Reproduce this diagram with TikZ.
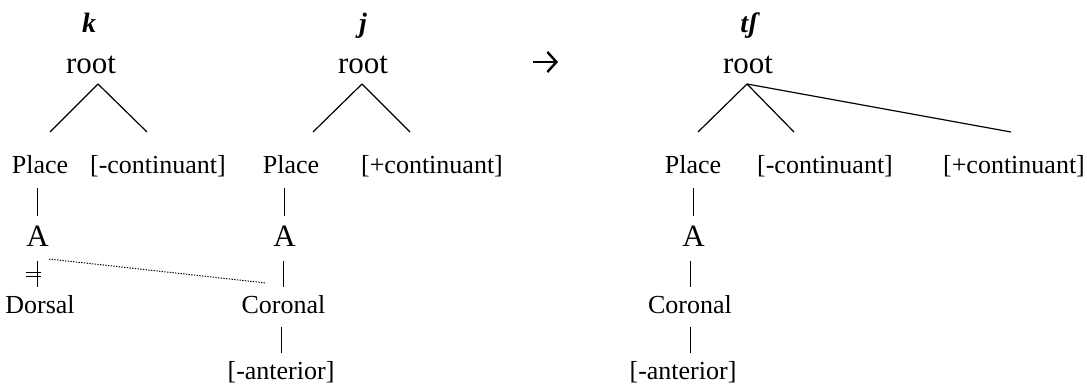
\documentclass[tikz,border=0pt]{standalone}
\usepackage{fontspec}
\setmainfont{Liberation Serif}
\usetikzlibrary{arrows.meta}

\begin{document}
\begin{tikzpicture}[
      x = 1pt, y = -1pt,
      seg/.style = {
        inner sep = 0pt, anchor = base,
        font = \fontsize{26}{30}\selectfont,
        text height = 18pt, text depth = 6pt
      },
      big/.style = {
        inner sep = 0pt, anchor = base,
        font = \fontsize{31}{36}\selectfont,
        text height = 22pt, text depth = 7pt
      },
      sound/.style = {
        inner sep = 0pt, anchor = base,
        font = \fontsize{28}{32}\selectfont\bfseries\itshape
      },
      branch/.style = { line width = 1.2pt },
      bar/.style = { line width = 0.8pt, shorten < = 8pt, shorten > = 8pt },
    ]

    \useasboundingbox (0,0) rectangle (1087,385);

    % segments
    \node[sound] (K)  at ( 89,33) {k};
    \node[sound] (J)  at (363,33) {j};
    \node[sound] (TS) at (749,33) {tʃ};

    \node[big] (R1) at ( 91,74) {root};
    \node[big] (R2) at (363,74) {root};
    \node[big] (R3) at (748,74) {root};

    % features
    \node[seg] (Pl1) at (  40,174) {Place};
    \node[seg] (Cn1) at ( 158,174) {[-continuant]};
    \node[seg] (Pl2) at ( 291,174) {Place};
    \node[seg] (Cp2) at ( 432,174) {[+continuant]};
    \node[seg] (Pl3) at ( 693,174) {Place};
    \node[seg] (Cn3) at ( 825,174) {[-continuant]};
    \node[seg] (Cp3) at (1014,174) {[+continuant]};

    \node[big] (A1) at ( 37.5,246) {A};
    \node[big] (A2) at (284.5,246) {A};
    \node[big] (A3) at (693.5,246) {A};

    \node[seg] (Do1) at ( 40,313) {Dorsal};
    \node[seg] (Co2) at (283.5,313) {Coronal};
    \node[seg] (Co3) at (690,313) {Coronal};

    \node[seg] (An2) at (281,379) {[-anterior]};
    \node[seg] (An3) at (683,379) {[-anterior]};

    % rule arrow
    \coordinate (arrL) at (533,62);
    \coordinate (arrR) at (558,62);
    \draw[line width = 2.2pt,
      -{Straight Barb[length = 9pt, width = 20pt, line width = 2.4pt]}]
      (arrL) -- (arrR);

    % branching from root
    \coordinate (a1) at ( 98,84);
    \coordinate (a2) at (362,84);
    \coordinate (a3) at (747,84);
    \coordinate (e1l) at ( 50,132);
    \coordinate (e1r) at (147,132);
    \coordinate (e2l) at (313,132);
    \coordinate (e2r) at (410,132);
    \coordinate (e3l) at (698,132);
    \coordinate (e3m) at (794,132);
    \coordinate (e3r) at (1011,132);

    \foreach \e in {e1l, e1r} {
      \draw[branch] (a1) -- (\e);
    }
    \foreach \e in {e2l, e2r} {
      \draw[branch] (a2) -- (\e);
    }
    \foreach \e in {e3l, e3m, e3r} {
      \draw[branch] (a3) -- (\e);
    }

    % vertical association lines
    \draw[bar] (A1 |- Pl1.south) -- (A1.north);
    \draw[bar] (A1.south) -- (A1.south |- Do1.north);
    \draw[bar] (A2 |- Pl2.south) -- (A2.north);
    \draw[bar] (Co2 |- A2.south) -- (Co2.north);
    \draw[bar] (An2 |- Co2.south) -- (An2.north);
    \draw[bar] (A3 |- Pl3.south) -- (A3.north);
    \draw[bar] (Co3 |- A3.south) -- (Co3.north);
    \draw[bar] (Co3.south) -- (Co3.south |- An3.north);

    % delinking
    \coordinate (cut) at (33.5,274.5);
    \draw[line width = 1.2pt] (cut) +(-7.5,-2.2) -- +(7.5,-2.2);
    \draw[line width = 1.2pt] (cut) +(-7.5, 2.2) -- +(7.5, 2.2);

    % spreading
    \coordinate (d1) at ( 49,259);
    \coordinate (d2) at (266,283);
    \draw[line width = 1pt, dash pattern = on 1.3pt off 1.4pt] (d1) -- (d2);
  \end{tikzpicture}
\end{document}
